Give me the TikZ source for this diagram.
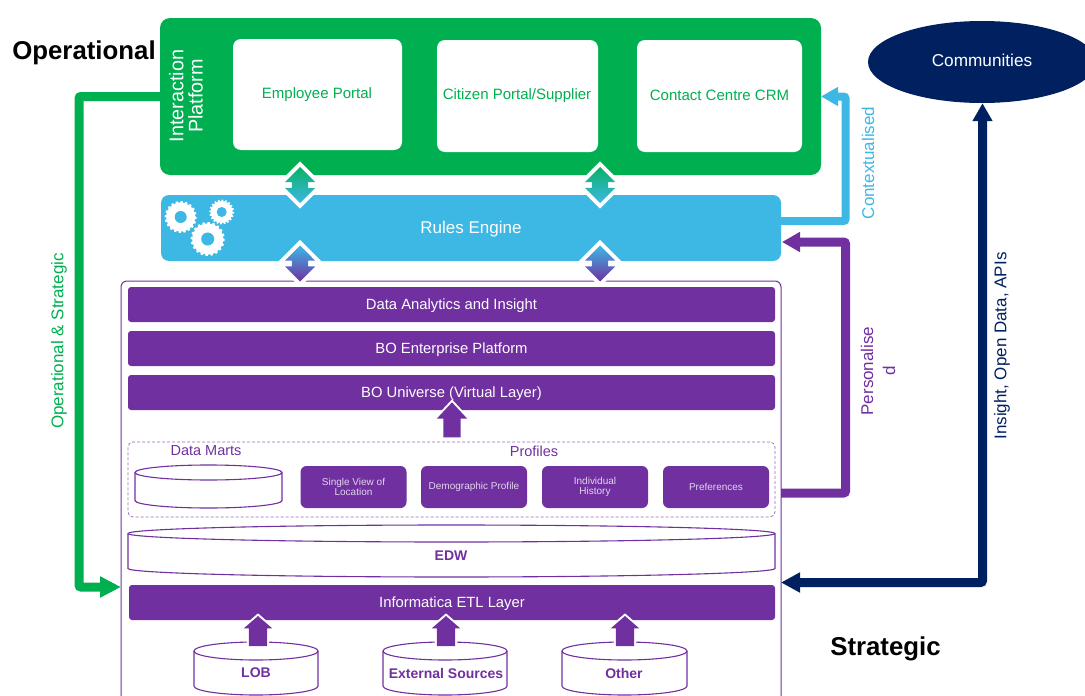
\documentclass[tikz,border=0pt]{standalone}
\usepackage{fontspec}
\setmainfont{Liberation Sans}
\usetikzlibrary{arrows.meta,shapes.geometric,shapes.arrows}
\definecolor{cpurple}{HTML}{7030A0}
\definecolor{cgreen}{HTML}{00B050}
\definecolor{cblue}{HTML}{3DB7E4}
\definecolor{cnavy}{HTML}{002060}
\newcommand{\fs}[1]{\fontsize{#1}{#1}\selectfont}
\tikzset{
  x=1pt,y=-1pt,
  box/.style={rectangle,inner sep=0pt,outer sep=0pt,rounded corners=#1},
  box/.default=5pt,
  portal/.style={box=8pt,fill=white},
  bar/.style={box=3pt,fill=cpurple,text=white,font=\fs{14.8},minimum width=647pt,minimum height=35pt,text height=11pt,text depth=0.4pt},
  mini/.style={box=6pt,fill=cpurple,text=white!80!cpurple,font=\fs{10},minimum width=106pt,minimum height=42pt,align=center},
  can/.style={rectangle,inner sep=0pt,outer sep=0pt},
  canline/.style={draw=cpurple,fill=white,line width=1.1pt},
  updown/.style={double arrow,shape border rotate=90,preaction={draw=white,line width=8pt},inner sep=8pt,minimum height=36pt,double arrow head extend=7pt},
  uparrow/.style={single arrow,rotate=90,preaction={draw=white,line width=4pt},fill=cpurple,inner xsep=0pt,inner ysep=9pt,minimum height=30pt,single arrow head extend=5pt,single arrow tip angle=98},
  link/.style={line width=#1,rounded corners=2pt},
  sidelabel/.style={rotate=90,font=\fs{17}},
  bigword/.style={font=\bfseries\fs{25.8}}
}
\newcommand{\gear}[3]{\fill[white,shift={(#1,#2)}] plot[domain=0:360,samples=161] (\x:{#3+(sin(20*\x+1)>0?1.6:0)}) -- cycle;}
% #1 node name, #2 half width (pt), #3 ellipse half height (pt)
\newcommand{\canbody}[3]{%
  \draw[canline] ([yshift=-#3]#1.north west)
    arc[start angle=180,end angle=0,x radius=#2,y radius=#3]
    -- ([yshift=#3]#1.south east)
    arc[start angle=360,end angle=180,x radius=#2,y radius=#3]
    -- cycle;
  \draw[canline,fill=none] ([yshift=-#3]#1.north east)
    arc[start angle=360,end angle=180,x radius=#2,y radius=#3];
}
\begin{document}
\begin{tikzpicture}
\useasboundingbox (0,0) rectangle (1085,696);
% containers
\node[box=6pt,draw=cpurple,line width=1pt,fill=white,minimum width=660pt,minimum height=430pt] (container) at (451,496) {};
\node[box=10pt,fill=cgreen,minimum width=661pt,minimum height=157pt] (platform) at (490.5,96.5) {};
\node[box=8pt,fill=cblue,text=white,font=\fs{17},minimum width=620pt,minimum height=66pt,text height=12.2pt,text depth=0.4pt] (rules) at (471,228) {Rules Engine};
% portals
\node[portal,minimum width=169pt,minimum height=111pt] (employee) at (317.5,94.5) {};
\node[font=\fs{15},text=cgreen] (employeetext) at (317,94.5) {Employee Portal};
\node[portal,minimum width=161pt,minimum height=112pt] (citizen) at (517.5,96) {};
\node[font=\fs{15},text=cgreen] (citizentext) at (517,96) {Citizen Portal/Supplier};
\node[portal,minimum width=165pt,minimum height=112pt] (contact) at (719.5,96) {};
\node[font=\fs{15},text=cgreen] (contacttext) at (719.5,95) {Contact Centre CRM};
\node[rotate=90,text=white,font=\fs{19.8},align=center] (interaction) at (186,96) {Interaction\\[-0.5pt]Platform};
% gears
\gear{180.7}{217}{14.4}
\gear{221.7}{212}{10.8}
\gear{207.7}{239}{15.4}
\fill[cblue] (180.7,217) circle (6) (221.7,212) circle (5) (207.7,239) circle (6.5);
% bars
\node[bar] (analytics) at (451.5,304.5) {Data Analytics and Insight};
\node[bar] (enterprise) at (451.5,348.5) {BO Enterprise Platform};
\node[bar] (universe) at (451.5,392.5) {BO Universe (Virtual Layer)};
\node[box=5pt,draw=cpurple!70,densely dashed,line width=.8pt,minimum width=647pt,minimum height=75pt] (profiles) at (451.5,479.5) {};
\node[font=\fs{14.5},text=cpurple] (martslabel) at (206,451) {Data Marts};
\node[font=\fs{14.5},text=cpurple] (profileslabel) at (534,451) {Profiles};
\node[can,minimum width=147pt,minimum height=43pt] (marts) at (208.5,486.5) {};
\canbody{marts}{73.5pt}{7.5pt}
\node[mini] (location) at (353.5,487) {Single View of\\[0pt]Location};
\node[mini] (demographic) at (474,487) {Demographic Profile};
\node[mini] (history) at (595,487) {Individual\\[0pt]History};
\node[mini] (preferences) at (716,487) {Preferences};
\node[can,minimum width=647pt,minimum height=52pt] (edw) at (451.5,551) {};
\canbody{edw}{323.5pt}{8.5pt}
\node[text=cpurple,font=\bfseries\fs{14}] (edwtext) at (451,556) {EDW};
\node[bar,minimum width=646pt] (etl) at (452,602.5) {Informatica ETL Layer};
% sources
\node[can,minimum width=124pt,minimum height=53pt] (lob) at (256,668.5) {};
\canbody{lob}{62pt}{9pt}
\node[can,minimum width=124pt,minimum height=53pt] (external) at (445,668.5) {};
\canbody{external}{62pt}{9pt}
\node[can,minimum width=125pt,minimum height=53pt] (other) at (624.5,668.5) {};
\canbody{other}{62.5pt}{9pt}
\node[text=cpurple,font=\bfseries\fs{14}] (lobtext) at (256,673) {LOB};
\node[text=cpurple,font=\bfseries\fs{14}] (externaltext) at (446,673) {External Sources};
\node[text=cpurple,font=\bfseries\fs{14}] (othertext) at (624,673) {Other};
% block arrows
\node[uparrow] (a1) at (258,635) {};
\node[uparrow] (a2) at (446,635) {};
\node[uparrow] (a3) at (625,635) {};
\node[uparrow,inner ysep=8.5pt,minimum height=35pt,single arrow head extend=6.5pt,single arrow tip angle=86] (a4) at (452,424.5) {};
\node[updown,top color=cgreen!85!cblue,bottom color=cblue] (d1) at (300,185) {};
\node[updown,top color=cgreen!85!cblue,bottom color=cblue] (d2) at (600,185) {};
\node[updown,top color=cblue,bottom color=cpurple] (d3) at (300,263.5) {};
\node[updown,top color=cblue,bottom color=cpurple] (d4) at (600,263.5) {};
% connectors
\coordinate (gturn) at (79,96.5);
\coordinate (gend) at (121,587);
\draw[link=9pt,cgreen,-{Triangle[length=21pt,width=20pt]}] (platform.west) -- (gturn) |- (gend);
\coordinate (bstart) at (781,221);
\coordinate (bturn) at (845.5,221);
\draw[link=8pt,cblue,-{Triangle[length=17pt,width=18pt]}] (bstart) -- (bturn) |- (platform.east);
\coordinate (pstart) at (781,493);
\coordinate (pturn) at (845.5,493);
\coordinate (pend) at (782,242);
\draw[link=9pt,cpurple,-{Triangle[length=18pt,width=19pt]}] (pstart) -- (pturn) |- (pend);
% communities
\node[ellipse,fill=cnavy,inner sep=0pt,minimum width=228pt,minimum height=82pt] (communities) at (982,62) {};
\node[text=white,font=\fs{17.2}] (communitiestext) at (982,60) {Communities};
\coordinate (nstart) at (781,582.5);
\coordinate (nturn) at (982.5,582.5);
\draw[link=9pt,cnavy,{Triangle[length=19pt,width=19pt]}-{Triangle[length=18pt,width=19pt]}] (nstart) -- (nturn) -- (communities.south -| nturn);
% labels
\node[bigword] (operational) at (84,53) {Operational};
\node[bigword] (strategic) at (885.5,649) {Strategic};
\node[sidelabel,text=cgreen] (oplabel) at (59,341) {Operational \& Strategic};
\node[sidelabel,text=cblue] (ctxlabel) at (868,163) {Contextualised};
\node[sidelabel,text=cpurple,align=center] (perslabel) at (878,371) {Personalise\\[5pt]d};
\node[sidelabel,text=cnavy] (insightlabel) at (1002,346) {Insight, Open Data, APIs};
\end{tikzpicture}
\end{document}
